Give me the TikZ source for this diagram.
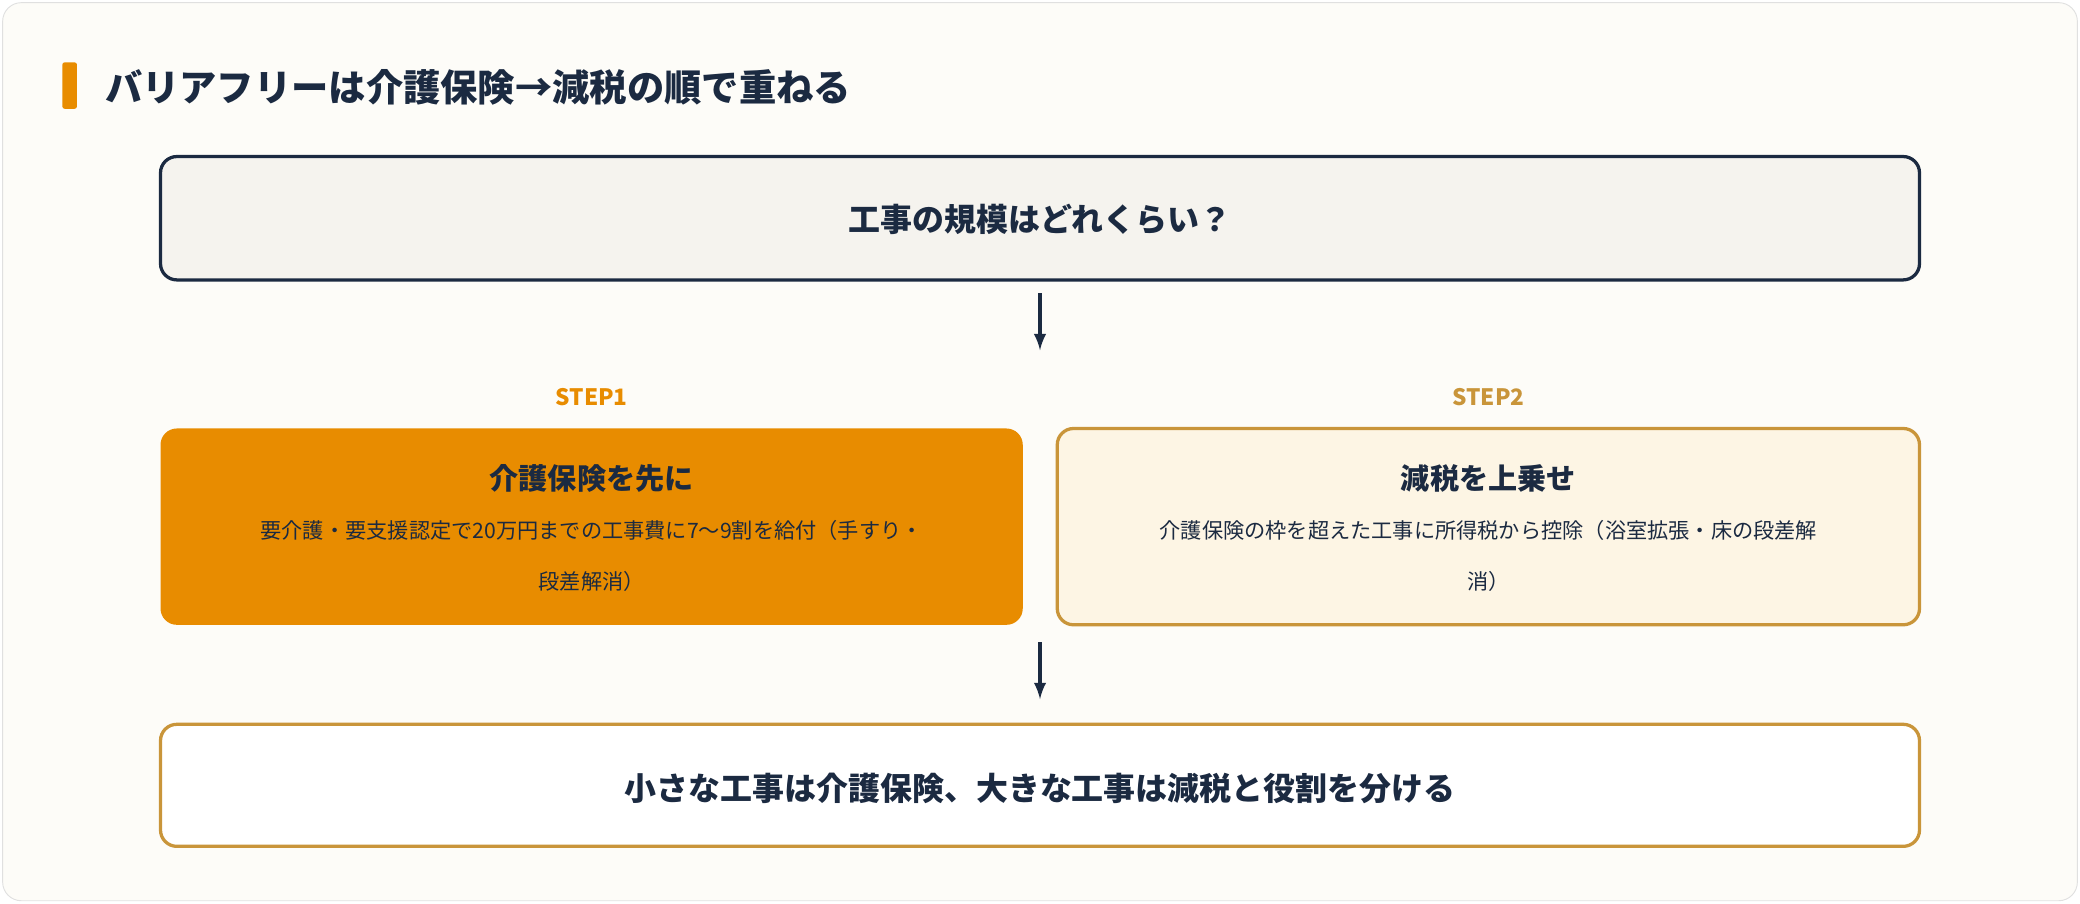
\documentclass[tikz,border=0pt]{standalone}
\usepackage{fontspec}
\setmainfont{Noto Sans CJK JP}
\usetikzlibrary{positioning}
\definecolor{navy}{HTML}{1B2A41}
\definecolor{orng}{HTML}{E88C00}
\definecolor{gold}{HTML}{C9953A}
\definecolor{cream}{HTML}{FDF5E4}
\definecolor{paper}{HTML}{FDFCF8}
\definecolor{grey}{HTML}{F5F3EE}
\tikzset{
  box/.style={rounded corners=7pt, line width=1.4pt, inner sep=0pt},
  steplabel/.style={font=\fontsize{9.7}{11}\selectfont\bfseries},
  flow/.style={-latex, line width=1.4pt, draw=navy},
}
\begin{document}
\begin{tikzpicture}[x=0.02cm, y=-0.02cm]
    \useasboundingbox (0,0) rectangle (1568,681);
    \draw [rounded corners=8pt, fill=paper, draw=black!12] (2,2) rectangle (1566,679);
    % title
    \fill [orng, rounded corners=1pt] (47,47) rectangle (58,82);
    \node [anchor=west, text=navy, font=\fontsize{16}{18}\selectfont\bfseries] (title) at (73,66) {バリアフリーは介護保険→減税の順で重ねる};
    % boxes
    \draw [box, fill=grey, draw=navy] (121,118) rectangle (1447,211);
    \node [text=navy, font=\fontsize{13.7}{16}\selectfont\bfseries] (q) at (784,165) {工事の規模はどれくらい？};
    \fill [orng, rounded corners=7pt] (121,323) rectangle (771,471);
    \draw [box, fill=cream, draw=gold] (797,323) rectangle (1447,471);
    \draw [box, fill=white, draw=gold] (121,546) rectangle (1447,638);
    \node [steplabel, text=orng] (s1) at (446,299) {STEP1};
    \node [steplabel, text=gold] (s2) at (1122,299) {STEP2};
    \node [text=navy, font=\fontsize{12.5}{14}\selectfont\bfseries] (a) at (446,361) {介護保険を先に};
    \node [text=navy, align=center, font=\fontsize{9.1}{21.6}\selectfont] (at) at (446,419) {要介護・要支援認定で20万円までの工事費に7〜9割を給付（手すり・\\段差解消）};
    \node [text=navy, font=\fontsize{12.5}{14}\selectfont\bfseries] (b) at (1122,361) {減税を上乗せ};
    \node [text=navy, align=center, font=\fontsize{9.1}{21.6}\selectfont] (bt) at (1122,419) {介護保険の枠を超えた工事に所得税から控除（浴室拡張・床の段差解\\消）};
    \node [text=navy, font=\fontsize{13.7}{16}\selectfont\bfseries] (c) at (784,594) {小さな工事は介護保険、大きな工事は減税と役割を分ける};
    % arrows
    \coordinate (p1) at (784,221);
    \coordinate (p2) at (784,264);
    \coordinate (p3) at (784,484);
    \coordinate (p4) at (784,527);
    \draw [flow] (p1) -- (p2);
    \draw [flow] (p3) -- (p4);
\end{tikzpicture}
\end{document}
